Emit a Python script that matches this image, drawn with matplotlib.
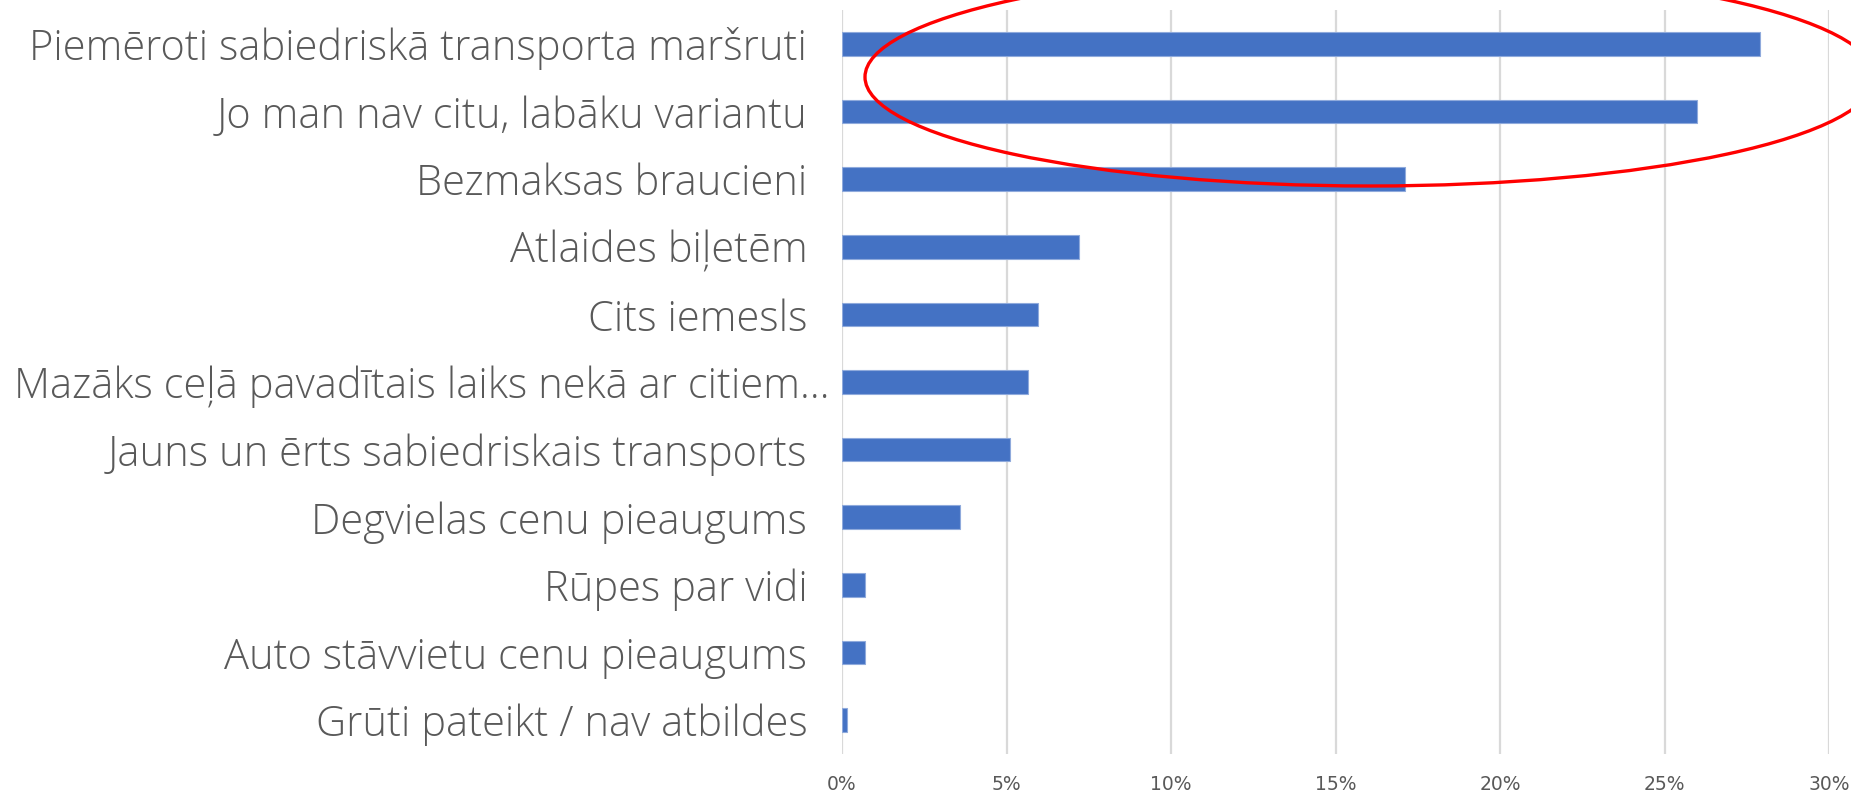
import numpy as np
import matplotlib
matplotlib.use("Agg")
import matplotlib.pyplot as plt
import matplotlib.transforms as mtransforms
from matplotlib.patches import Ellipse
from matplotlib.ticker import PercentFormatter


# =========================================================
# DATA (share of respondents, %)
# =========================================================

reasons = [
    "Piemēroti sabiedriskā transporta maršruti",
    "Jo man nav citu, labāku variantu",
    "Bezmaksas braucieni",
    "Atlaides biļetēm",
    "Cits iemesls",
    "Mazāks ceļā pavadītais laiks nekā ar citiem...",
    "Jauns un ērts sabiedriskais transports",
    "Degvielas cenu pieaugums",
    "Rūpes par vidi",
    "Auto stāvvietu cenu pieaugums",
    "Grūti pateikt / nav atbildes",
]

shares = [27.9, 26.0, 17.1, 7.2, 5.95, 5.65, 5.1, 3.6, 0.7, 0.7, 0.15]

x_ticks = [0, 5, 10, 15, 20, 25, 30]


# =========================================================
# FIGURE
# =========================================================

W, H = 1851, 796
fig = plt.figure(figsize=(W / 100, H / 100), dpi=100)

ax = fig.add_axes([
    842 / W,
    (H - 754) / H,
    (1829 - 842) / W,
    (754 - 10) / H
])

y_pos = np.arange(len(reasons))

ax.barh(
    y_pos,
    shares,
    height=0.35,
    color="#4472C4",
    edgecolor="#8FAADC",
    linewidth=0.8,
    zorder=3
)

ax.set_xlim(0, 30)
ax.set_ylim(len(reasons) - 0.5, -0.5)

ax.set_xticks(x_ticks)
ax.xaxis.set_major_formatter(PercentFormatter(decimals=0))
ax.set_yticks(y_pos)
ax.set_yticklabels(reasons)

ax.grid(axis="x", color="#D9D9D9", linewidth=1.6, zorder=0)
ax.grid(axis="y", visible=False)

for side in ["top", "right", "bottom", "left"]:
    ax.spines[side].set_visible(False)

ax.tick_params(axis="both", length=0)
ax.tick_params(axis="y", pad=25, labelcolor="#595959")
ax.tick_params(axis="x", pad=15, labelcolor="#595959")

for lab in ax.get_yticklabels():
    lab.set_fontfamily(["Open Sans", "DejaVu Sans"])
    lab.set_fontweight("light")
    lab.set_fontsize(30)

for lab in ax.get_xticklabels():
    lab.set_fontfamily(["Liberation Sans Narrow", "DejaVu Sans"])
    lab.set_fontsize(13.5)

# the truncated long label sits closer to the axis
long_lab = ax.get_yticklabels()[5]
long_lab.set_transform(
    long_lab.get_transform()
    + mtransforms.ScaledTranslation(22 / 100, 0, fig.dpi_scale_trans)
)

# red highlight round the top answers (figure inches)
ring = Ellipse(
    (13.70, (H - 77) / 100),
    width=10.10,
    height=2.18,
    angle=0,
    transform=fig.dpi_scale_trans,
    fill=False,
    edgecolor="#FF0000",
    linewidth=2.4,
    zorder=10
)
fig.patches.append(ring)

fig.savefig("out.png", dpi=100)
